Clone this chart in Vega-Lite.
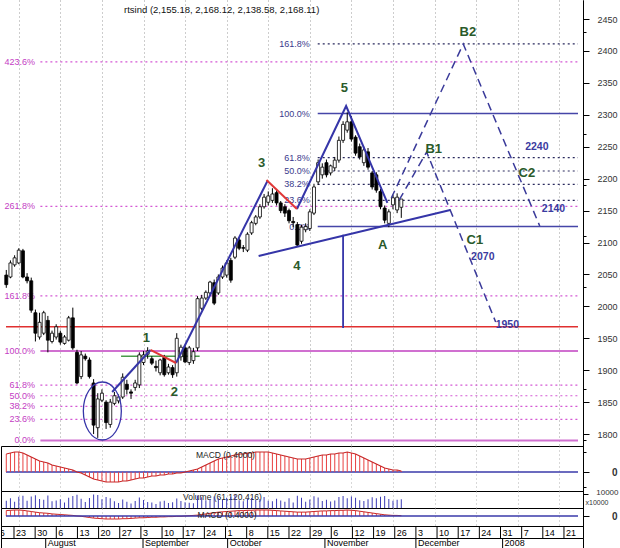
{
  "$schema": "https://vega.github.io/schema/vega-lite/v6.json",
  "padding": 0,
  "background": "white",
  "spacing": 0,
  "bounds": "flush",
  "config": {"font": "Liberation Sans", "axis": {"labelFont": "Liberation Sans"}, "text": {"font": "Liberation Sans"}},
  "resolve": {"scale": {"x": "independent", "y": "independent"}, "axis": {"x": "independent", "y": "independent"}},
  "datasets": {
    "candles": [
      {"i":2,"o":2049,"h":2057,"l":2029,"c":2034,"m":18,"v":5200},
      {"i":3,"o":2046,"h":2072,"l":2044,"c":2068,"m":19,"v":6800},
      {"i":4,"o":2065,"h":2080,"l":2062,"c":2076,"m":20,"v":4500},
      {"i":5,"o":2068,"h":2091,"l":2066,"c":2088,"m":20,"v":7900},
      {"i":6,"o":2087,"h":2090,"l":2044,"c":2046,"m":19,"v":8600},
      {"i":7,"o":2046,"h":2052,"l":2036,"c":2040,"m":17,"v":5100},
      {"i":8,"o":2040,"h":2045,"l":1990,"c":1994,"m":15,"v":8200},
      {"i":9,"o":1990,"h":1995,"l":1945,"c":1958,"m":13,"v":9000},
      {"i":10,"o":1952,"h":1990,"l":1948,"c":1975,"m":11,"v":6400},
      {"i":11,"o":1958,"h":1993,"l":1955,"c":1990,"m":10,"v":5800},
      {"i":12,"o":1978,"h":1985,"l":1928,"c":1947,"m":9,"v":8800},
      {"i":13,"o":1945,"h":1962,"l":1942,"c":1958,"m":7,"v":4700},
      {"i":14,"o":1952,"h":1972,"l":1948,"c":1968,"m":6,"v":5300},
      {"i":15,"o":1958,"h":1962,"l":1940,"c":1944,"m":5,"v":6100},
      {"i":16,"o":1942,"h":1955,"l":1940,"c":1952,"m":4,"v":3900},
      {"i":17,"o":1947,"h":1985,"l":1945,"c":1982,"m":3,"v":7200},
      {"i":18,"o":1982,"h":1998,"l":1932,"c":1935,"m":2,"v":8400},
      {"i":19,"o":1928,"h":1932,"l":1878,"c":1880,"m":0,"v":9300},
      {"i":20,"o":1890,"h":1930,"l":1886,"c":1924,"m":-1,"v":6600},
      {"i":21,"o":1922,"h":1926,"l":1915,"c":1918,"m":-3,"v":4200},
      {"i":22,"o":1916,"h":1920,"l":1887,"c":1890,"m":-5,"v":7000},
      {"i":23,"o":1880,"h":1886,"l":1800,"c":1814,"m":-7,"v":9600},
      {"i":24,"o":1810,"h":1864,"l":1794,"c":1855,"m":-8,"v":9100},
      {"i":25,"o":1853,"h":1870,"l":1850,"c":1864,"m":-9,"v":6200},
      {"i":26,"o":1850,"h":1853,"l":1808,"c":1818,"m":-10,"v":7700},
      {"i":27,"o":1815,"h":1855,"l":1810,"c":1850,"m":-10,"v":6900},
      {"i":28,"o":1848,"h":1866,"l":1845,"c":1860,"m":-10,"v":4800},
      {"i":29,"o":1852,"h":1862,"l":1848,"c":1858,"m":-10,"v":3600},
      {"i":30,"o":1858,"h":1895,"l":1855,"c":1889,"m":-9,"v":6000},
      {"i":31,"o":1878,"h":1885,"l":1862,"c":1870,"m":-9,"v":4400},
      {"i":32,"o":1866,"h":1870,"l":1855,"c":1864,"m":-8,"v":3200},
      {"i":33,"o":1873,"h":1885,"l":1868,"c":1880,"m":-7,"v":5000},
      {"i":34,"o":1877,"h":1928,"l":1872,"c":1924,"m":-6,"v":7400},
      {"i":35,"o":1912,"h":1930,"l":1908,"c":1924,"m":-6,"v":5600},
      {"i":36,"o":1925,"h":1936,"l":1918,"c":1930,"m":-5,"v":4300},
      {"i":37,"o":1918,"h":1922,"l":1908,"c":1911,"m":-4,"v":3800},
      {"i":38,"o":1906,"h":1915,"l":1898,"c":1904,"m":-4,"v":2900},
      {"i":39,"o":1896,"h":1918,"l":1892,"c":1916,"m":-3,"v":4600},
      {"i":40,"o":1920,"h":1924,"l":1890,"c":1893,"m":-3,"v":5200},
      {"i":41,"o":1896,"h":1910,"l":1893,"c":1905,"m":-2,"v":3500},
      {"i":42,"o":1904,"h":1908,"l":1888,"c":1893,"m":-2,"v":4000},
      {"i":43,"o":1896,"h":1958,"l":1890,"c":1950,"m":-1,"v":6700},
      {"i":44,"o":1921,"h":1940,"l":1915,"c":1936,"m":-1,"v":4900},
      {"i":45,"o":1935,"h":1940,"l":1911,"c":1913,"m":0,"v":4100},
      {"i":46,"o":1912,"h":1938,"l":1908,"c":1935,"m":1,"v":3700},
      {"i":47,"o":1915,"h":1935,"l":1910,"c":1929,"m":2,"v":3300},
      {"i":48,"o":1935,"h":2016,"l":1930,"c":2012,"m":3,"v":8900},
      {"i":49,"o":1997,"h":2018,"l":1994,"c":2013,"m":5,"v":7600},
      {"i":50,"o":2013,"h":2025,"l":2010,"c":2022,"m":7,"v":5500},
      {"i":51,"o":2021,"h":2040,"l":2018,"c":2038,"m":9,"v":6300},
      {"i":52,"o":2037,"h":2042,"l":2002,"c":2005,"m":11,"v":8100},
      {"i":53,"o":2021,"h":2050,"l":2018,"c":2046,"m":13,"v":6800},
      {"i":54,"o":2046,"h":2064,"l":2043,"c":2060,"m":14,"v":5900},
      {"i":55,"o":2049,"h":2072,"l":2045,"c":2068,"m":15,"v":7300},
      {"i":56,"o":2072,"h":2076,"l":2037,"c":2041,"m":16,"v":8000},
      {"i":57,"o":2077,"h":2110,"l":2074,"c":2107,"m":17,"v":9200},
      {"i":58,"o":2104,"h":2108,"l":2088,"c":2091,"m":18,"v":5400},
      {"i":59,"o":2092,"h":2096,"l":2085,"c":2091,"m":18,"v":4700},
      {"i":60,"o":2088,"h":2116,"l":2085,"c":2113,"m":19,"v":6500},
      {"i":61,"o":2115,"h":2134,"l":2112,"c":2131,"m":19,"v":7100},
      {"i":62,"o":2130,"h":2143,"l":2127,"c":2140,"m":20,"v":5700},
      {"i":63,"o":2140,"h":2160,"l":2137,"c":2156,"m":20,"v":6400},
      {"i":64,"o":2156,"h":2176,"l":2153,"c":2171,"m":20,"v":7800},
      {"i":65,"o":2163,"h":2180,"l":2158,"c":2173,"m":20,"v":5100},
      {"i":66,"o":2166,"h":2185,"l":2162,"c":2176,"m":19,"v":4800},
      {"i":67,"o":2178,"h":2182,"l":2158,"c":2162,"m":18,"v":6600},
      {"i":68,"o":2162,"h":2165,"l":2146,"c":2150,"m":17,"v":5300},
      {"i":69,"o":2156,"h":2160,"l":2140,"c":2146,"m":16,"v":4500},
      {"i":70,"o":2150,"h":2153,"l":2130,"c":2134,"m":15,"v":6900},
      {"i":71,"o":2133,"h":2140,"l":2124,"c":2131,"m":14,"v":3900},
      {"i":72,"o":2128,"h":2132,"l":2093,"c":2096,"m":13,"v":8700},
      {"i":73,"o":2102,"h":2128,"l":2098,"c":2124,"m":13,"v":7200},
      {"i":74,"o":2120,"h":2130,"l":2116,"c":2125,"m":13,"v":4400},
      {"i":75,"o":2122,"h":2152,"l":2118,"c":2148,"m":14,"v":6000},
      {"i":76,"o":2146,"h":2192,"l":2143,"c":2187,"m":15,"v":8300},
      {"i":77,"o":2195,"h":2230,"l":2190,"c":2225,"m":16,"v":7500},
      {"i":78,"o":2206,"h":2224,"l":2200,"c":2218,"m":17,"v":5000},
      {"i":79,"o":2225,"h":2230,"l":2202,"c":2206,"m":17,"v":5800},
      {"i":80,"o":2209,"h":2222,"l":2205,"c":2220,"m":18,"v":4600},
      {"i":81,"o":2217,"h":2234,"l":2212,"c":2229,"m":18,"v":5300},
      {"i":82,"o":2229,"h":2266,"l":2225,"c":2260,"m":19,"v":7700},
      {"i":83,"o":2260,"h":2290,"l":2256,"c":2285,"m":19,"v":8400},
      {"i":84,"o":2276,"h":2304,"l":2272,"c":2289,"m":20,"v":6900},
      {"i":85,"o":2289,"h":2298,"l":2258,"c":2262,"m":19,"v":8100},
      {"i":86,"o":2265,"h":2268,"l":2236,"c":2240,"m":18,"v":7300},
      {"i":87,"o":2250,"h":2255,"l":2230,"c":2234,"m":16,"v":5500},
      {"i":88,"o":2225,"h":2250,"l":2220,"c":2245,"m":14,"v":4900},
      {"i":89,"o":2242,"h":2248,"l":2214,"c":2218,"m":12,"v":6200},
      {"i":90,"o":2209,"h":2212,"l":2183,"c":2187,"m":10,"v":7600},
      {"i":91,"o":2206,"h":2210,"l":2178,"c":2182,"m":8,"v":6800},
      {"i":92,"o":2180,"h":2184,"l":2152,"c":2156,"m":6,"v":7900},
      {"i":93,"o":2154,"h":2158,"l":2130,"c":2135,"m":4,"v":8500},
      {"i":94,"o":2130,"h":2152,"l":2124,"c":2148,"m":3,"v":6400},
      {"i":95,"o":2159,"h":2175,"l":2152,"c":2170,"m":2,"v":5200},
      {"i":96,"o":2151,"h":2177,"l":2146,"c":2171,"m":2,"v":5900},
      {"i":97,"o":2155.18,"h":2168.12,"l":2138.58,"c":2168.11,"m":1,"v":6112}
    ],
    "fibMagDot": [
      {"x1":10.2,"x2":139.5,"lx":8.9,"p":2383,"lab":"423.6%"},{"x1":10.2,"x2":139.5,"lx":8.9,"p":2156.5,"lab":"261.8%"},{"x1":10.2,"x2":139.5,"lx":8.9,"p":2016.5,"lab":"161.8%"},
      {"x1":10.2,"x2":139.5,"lx":8.9,"p":1876.5,"lab":"61.8%"},{"x1":10.2,"x2":139.5,"lx":8.9,"p":1860,"lab":"50.0%"},{"x1":10.2,"x2":139.5,"lx":8.9,"p":1843.5,"lab":"38.2%"},{"x1":10.2,"x2":139.5,"lx":8.9,"p":1823,"lab":"23.6%"}
    ],
    "fibMagSolid": [{"x1":10.2,"x2":139.5,"lx":8.9,"p":1930,"lab":"100.0%"},{"x1":10.2,"x2":139.5,"lx":8.9,"p":1790,"lab":"0.0%"}],
    "fibNavDot": [
      {"x1":76.9,"x2":139.5,"lx":75.0,"p":2411,"lab":"161.8%"},{"x1":76.9,"x2":139.5,"lx":75.0,"p":2233,"lab":"61.8%"},{"x1":76.9,"x2":139.5,"lx":75.0,"p":2212,"lab":"50.0%"},
      {"x1":76.9,"x2":139.5,"lx":75.0,"p":2191,"lab":"38.2%"},{"x1":76.9,"x2":139.5,"lx":75.0,"p":2166,"lab":"23.6%"}
    ],
    "fibNavSolid": [{"x1":76.9,"x2":139.5,"lx":75.0,"p":2302,"lab":"100.0%"},{"x1":76.9,"x2":139.5,"lx":75.0,"p":2125,"lab":"0.0%"}],
    "redLine": [{"x1":1.93,"x2":139.5,"p":1968}],
    "greenLine": [{"x1":29.6,"x2":48.5,"p":1922}],
    "vLine": [{"i":83.0,"p1":2112,"p2":1966}],
    "trendNavy": [
      {"seg":"w1","i":27.46,"p":1865.9},{"seg":"w1","i":36.68,"p":1931.7},
      {"seg":"w3","i":42.83,"p":1911.3},{"seg":"w3","i":64.81,"p":2196.3},
      {"seg":"w5","i":71.9,"p":2152.5},{"seg":"w5","i":83.73,"p":2313.8},{"seg":"w5","i":93.66,"p":2161.9},
      {"seg":"tl","i":62.69,"p":2078.9},{"seg":"tl","i":108.79,"p":2150.9}
    ],
    "trendRed": [
      {"seg":"r1","i":36.68,"p":1931.7},{"seg":"r1","i":42.83,"p":1911.3},
      {"seg":"r2","i":64.58,"p":2197.9},{"seg":"r2","i":71.9,"p":2152.5}
    ],
    "trendDash": [
      {"seg":"d1","i":94.6,"p":2169.7},{"seg":"d1","i":111.9,"p":2410.9},{"seg":"d1","i":130.3,"p":2125.8},
      {"seg":"d2","i":96.5,"p":2166.6},{"seg":"d2","i":103.1,"p":2241.7},{"seg":"d2","i":119.7,"p":1975.5}
    ],
    "ellipse": [{"i":25.1,"p":1836.1}],
    "waveLab": [
      {"i":35.7,"p":1950.4,"t":"1"},{"i":42.4,"p":1865.9,"t":"2"},{"i":63.4,"p":2224.5,"t":"3"},
      {"i":71.9,"p":2063.2,"t":"4"},{"i":83.3,"p":2341.9,"t":"5"},{"i":92.5,"p":2096.1,"t":"A"},
      {"i":104.8,"p":2246.4,"t":"B1"},{"i":113.0,"p":2429.6,"t":"B2"},{"i":114.7,"p":2103.9,"t":"C1"},
      {"i":127.2,"p":2208.8,"t":"C2"}
    ],
    "navNum": [
      {"i":129.6,"p":2249.6,"t":"2240"},{"i":133.6,"p":2152.5,"t":"2140"},
      {"i":116.6,"p":2077.3,"t":"2070"},{"i":122.5,"p":1970.8,"t":"1950"}
    ],
    "titleLab": [{"i":53.8,"p":2464,"t":"rtsind (2,155.18, 2,168.12, 2,138.58, 2,168.11)"}],
    "zero": [{"x1":1.93,"x2":139.5,"z":0}],
    "macdLab": [{"i":47.6,"m":17,"t":"MACD (0.4000)"}],
    "volLab": [{"i":44.5,"v":7750,"t":"Volume (61,120,416)"}],
    "macd2Lab": [{"i":48,"m":3.3,"t":"MACD (0.4000)"}],
    "weeks": [
      {"i":0,"d":"16"},
      {"i":5,"d":"23"},{"i":10,"d":"30"},{"i":15,"d":"6"},{"i":20,"d":"13"},{"i":25,"d":"20"},{"i":30,"d":"27"},
      {"i":35,"d":"3"},{"i":40,"d":"10"},{"i":45,"d":"17"},{"i":50,"d":"24"},{"i":55,"d":"1"},{"i":60,"d":"8"},
      {"i":65,"d":"15"},{"i":70,"d":"22"},{"i":75,"d":"29"},{"i":80,"d":"6"},{"i":85,"d":"12"},{"i":90,"d":"19"},
      {"i":95,"d":"26"},{"i":100,"d":"3"},{"i":105,"d":"10"},{"i":110,"d":"17"},{"i":115,"d":"24"},{"i":120,"d":"31"},
      {"i":125,"d":"7"},{"i":130,"d":"14"},{"i":135,"d":"21"}
    ],
    "months": [
      {"i":12.5,"name":"August"},{"i":35.5,"name":"September"},{"i":55.5,"name":"October"},
      {"i":78.5,"name":"November"},{"i":100,"name":"December"},{"i":120.5,"name":"2008"}
    ]
  },
  "vconcat": [
    {
      "width": 582, "height": 446, "view": {"stroke": null},
      "resolve": {"axis": {"y": "independent"}},
      "layer": [
        {"data":{"name":"redLine"},"mark":{"type":"rule","color":"#e03030","strokeWidth":1.5},
         "encoding":{"x":{"field":"x1","type":"quantitative","title":null,"scale":{"domain":[1.93,139.5],"nice":false,"zero":false},
                          "axis":{"orient":"bottom","values":[5,10,15,20,25,30,35,40,45,50,55,60,65,70,75,80,85,90,95,100,105,110,115,120,125,130,135],"grid":true,"gridDash":[1,3],"gridColor":"#9a9a9a","labels":false,"ticks":false,"domain":false,"title":null,"minExtent":0,"maxExtent":0}},
                     "x2":{"field":"x2"},
                     "y":{"field":"p","type":"quantitative","title":null,"scale":{"domain":[1781.3,2479.8],"nice":false,"zero":false},
                          "axis":{"orient":"right","title":null,"grid":false,"domainColor":"#000","tickColor":"#000","tickSize":6,
                                  "values":[1800,1850,1900,1950,2000,2050,2100,2150,2200,2250,2300,2350,2400,2450],"format":"d",
                                  "labelFontSize":9,"labelColor":"#333","labelAlign":"right","labelPadding":28,"labelOverlap":false,"labelBound":false,"labelFlush":false}}}},
        {"layer": [
        {"data":{"name":"fibMagDot"},"mark":{"type":"rule","color":"#d458d4","strokeWidth":1.2,"strokeDash":[2,3]},
         "encoding":{"x":{"field":"x1","type":"quantitative","title":null},"x2":{"field":"x2"},"y":{"field":"p","type":"quantitative","title":null}}},
        {"data":{"name":"fibMagSolid"},"mark":{"type":"rule","color":"#d070d0","strokeWidth":2},
         "encoding":{"x":{"field":"x1","type":"quantitative","title":null},"x2":{"field":"x2"},"y":{"field":"p","type":"quantitative","title":null}}},
        {"data":{"name":"fibMagDot"},"mark":{"type":"text","align":"right","baseline":"middle","fontSize":9,"color":"#c43cc4"},
         "encoding":{"x":{"field":"lx","type":"quantitative","title":null},"y":{"field":"p","type":"quantitative","title":null},"text":{"field":"lab","type":"nominal"}}},
        {"data":{"name":"fibMagSolid"},"mark":{"type":"text","align":"right","baseline":"middle","fontSize":9,"color":"#c43cc4"},
         "encoding":{"x":{"field":"lx","type":"quantitative","title":null},"y":{"field":"p","type":"quantitative","title":null},"text":{"field":"lab","type":"nominal"}}},
        {"data":{"name":"fibNavDot"},"mark":{"type":"rule","color":"#2a2a5e","strokeWidth":1.2,"strokeDash":[2,3]},
         "encoding":{"x":{"field":"x1","type":"quantitative","title":null},"x2":{"field":"x2"},"y":{"field":"p","type":"quantitative","title":null}}},
        {"data":{"name":"fibNavSolid"},"mark":{"type":"rule","color":"#4646a8","strokeWidth":1.6},
         "encoding":{"x":{"field":"x1","type":"quantitative","title":null},"x2":{"field":"x2"},"y":{"field":"p","type":"quantitative","title":null}}},
        {"data":{"name":"fibNavDot"},"mark":{"type":"text","align":"right","baseline":"middle","fontSize":9,"color":"#3a3a8c"},
         "encoding":{"x":{"field":"lx","type":"quantitative","title":null},"y":{"field":"p","type":"quantitative","title":null},"text":{"field":"lab","type":"nominal"}}},
        {"data":{"name":"fibNavSolid"},"mark":{"type":"text","align":"right","baseline":"middle","fontSize":9,"color":"#3a3a8c"},
         "encoding":{"x":{"field":"lx","type":"quantitative","title":null},"y":{"field":"p","type":"quantitative","title":null},"text":{"field":"lab","type":"nominal"}}},
        {"data":{"name":"greenLine"},"mark":{"type":"rule","color":"#4a9a4a","strokeWidth":1.5},
         "encoding":{"x":{"field":"x1","type":"quantitative","title":null},"x2":{"field":"x2"},"y":{"field":"p","type":"quantitative","title":null}}},
        {"data":{"name":"vLine"},"mark":{"type":"rule","color":"#3535a8","strokeWidth":1.8},
         "encoding":{"x":{"field":"i","type":"quantitative","title":null},"y":{"field":"p1","type":"quantitative","title":null},"y2":{"field":"p2"}}},
        {"data":{"name":"candles"},"mark":{"type":"rule","color":"#000","strokeWidth":1,"clip":true},
         "encoding":{
           "x":{"field":"i","type":"quantitative","title":null,"scale":{"domain":[1.93,139.5],"nice":false,"zero":false},
                "axis":{"orient":"bottom","values":[5,10,15,20,25,30,35,40,45,50,55,60,65,70,75,80,85,90,95,100,105,110,115,120,125,130,135],"grid":true,"gridDash":[1,3],"gridColor":"#9a9a9a","labels":false,"ticks":false,"domain":false,"title":null,"minExtent":0,"maxExtent":0}},
           "y":{"field":"l","type":"quantitative","title":null,"scale":{"domain":[1781.3,2479.8],"nice":false,"zero":false},
                "axis":{"orient":"right","title":null,"grid":false,"labels":false,"domainColor":"#000","tickColor":"#000","tickSize":3,
                        "values":[1790,1800,1810,1820,1830,1840,1850,1860,1870,1880,1890,1900,1910,1920,1930,1940,1950,1960,1970,1980,1990,2000,2010,2020,2030,2040,2050,2060,2070,2080,2090,2100,2110,2120,2130,2140,2150,2160,2170,2180,2190,2200,2210,2220,2230,2240,2250,2260,2270,2280,2290,2300,2310,2320,2330,2340,2350,2360,2370,2380,2390,2400,2410,2420,2430,2440,2450,2460,2470]}},
           "y2":{"field":"h"}}},
        {"data":{"name":"candles"},"mark":{"type":"bar","size":3,"stroke":"#000","strokeWidth":0.8,"clip":true},
         "encoding":{"x":{"field":"i","type":"quantitative","title":null},"y":{"field":"o","type":"quantitative","title":null},"y2":{"field":"c"},
                     "fill":{"condition":{"test":"datum.c >= datum.o","value":"#ffffff"},"value":"#000000"}}},
        {"data":{"name":"trendNavy"},"mark":{"type":"line","color":"#3535a8","strokeWidth":2},
         "encoding":{"x":{"field":"i","type":"quantitative","title":null},"y":{"field":"p","type":"quantitative","title":null},"detail":{"field":"seg","type":"nominal"}}},
        {"data":{"name":"trendRed"},"mark":{"type":"line","color":"#e03838","strokeWidth":2},
         "encoding":{"x":{"field":"i","type":"quantitative","title":null},"y":{"field":"p","type":"quantitative","title":null},"detail":{"field":"seg","type":"nominal"}}},
        {"data":{"name":"trendDash"},"mark":{"type":"line","color":"#3a3a9a","strokeWidth":1.5,"strokeDash":[8,5]},
         "encoding":{"x":{"field":"i","type":"quantitative","title":null},"y":{"field":"p","type":"quantitative","title":null},"detail":{"field":"seg","type":"nominal"}}},
        {"data":{"name":"ellipse"},"mark":{"type":"point","filled":false,"stroke":"#3535a8","strokeWidth":1.3,"size":3364,"opacity":1,
           "shape":"M -0.655 0 A 0.655 1 0 1 0 0.655 0 A 0.655 1 0 1 0 -0.655 0 Z"},
         "encoding":{"x":{"field":"i","type":"quantitative","title":null},"y":{"field":"p","type":"quantitative","title":null}}},
        {"data":{"name":"waveLab"},"mark":{"type":"text","align":"center","baseline":"middle","fontSize":13,"fontWeight":"bold","color":"#2a5a2a"},
         "encoding":{"x":{"field":"i","type":"quantitative","title":null},"y":{"field":"p","type":"quantitative","title":null},"text":{"field":"t","type":"nominal"}}},
        {"data":{"name":"navNum"},"mark":{"type":"text","align":"center","baseline":"middle","fontSize":10.5,"fontWeight":"bold","color":"#3b3ba0"},
         "encoding":{"x":{"field":"i","type":"quantitative","title":null},"y":{"field":"p","type":"quantitative","title":null},"text":{"field":"t","type":"nominal"}}},
        {"data":{"name":"titleLab"},"mark":{"type":"text","align":"center","baseline":"middle","fontSize":9.5,"color":"#111"},
         "encoding":{"x":{"field":"i","type":"quantitative","title":null},"y":{"field":"p","type":"quantitative","title":null},"text":{"field":"t","type":"nominal"}}}
        ]}
      ]
    },
    {
      "width": 582, "height": 45, "view": {"stroke": "#000", "strokeWidth": 1},
      "resolve": {"axis": {"y": "independent"}},
      "layer": [
        {"data":{"name":"zero"},"mark":{"type":"rule","color":"#3a3aaa","strokeWidth":1.5},
         "encoding":{"x":{"field":"x1","type":"quantitative","title":null,"scale":{"domain":[1.93,139.5],"nice":false,"zero":false},
                          "axis":{"orient":"bottom","values":[5,10,15,20,25,30,35,40,45,50,55,60,65,70,75,80,85,90,95,100,105,110,115,120,125,130,135],"grid":true,"gridDash":[1,3],"gridColor":"#b0b0b0","labels":false,"ticks":false,"domain":false,"title":null,"minExtent":0,"maxExtent":0}},
                     "x2":{"field":"x2"},
                     "y":{"field":"z","type":"quantitative","title":null,"scale":{"domain":[-19,26],"nice":false,"zero":true},
                          "axis":{"orient":"right","title":null,"grid":false,"domainColor":"#000","tickColor":"#000","values":[0],"tickSize":6,"format":"d",
                                  "labelFontSize":10,"labelFontWeight":"bold","labelColor":"#333","labelAlign":"right","labelPadding":28,"labelOverlap":false,"labelBound":false,"labelFlush":false}}}},
        {"layer": [
        {"data":{"name":"candles"},"mark":{"type":"bar","size":1,"color":"#e84040"},
         "encoding":{
           "x":{"field":"i","type":"quantitative","title":null,"scale":{"domain":[1.93,139.5],"nice":false,"zero":false},
                "axis":{"orient":"bottom","values":[5,10,15,20,25,30,35,40,45,50,55,60,65,70,75,80,85,90,95,100,105,110,115,120,125,130,135],"grid":true,"gridDash":[1,3],"gridColor":"#b0b0b0","labels":false,"ticks":false,"domain":false,"title":null,"minExtent":0,"maxExtent":0}},
           "y":{"field":"m","type":"quantitative","title":null,"scale":{"domain":[-19,26],"nice":false,"zero":true},
                "axis":{"orient":"right","title":null,"grid":false,"labels":false,"domainColor":"#000","tickColor":"#000","tickSize":3,"values":[-15,-10,-5,5,10,15,20]}}}},
        {"data":{"name":"candles"},"mark":{"type":"line","color":"#c82828","strokeWidth":1.2},
         "encoding":{"x":{"field":"i","type":"quantitative","title":null},"y":{"field":"m","type":"quantitative","title":null}}},
        {"data":{"name":"macdLab"},"mark":{"type":"text","align":"left","baseline":"middle","fontSize":8.5,"color":"#222"},
         "encoding":{"x":{"field":"i","type":"quantitative","title":null},"y":{"field":"m","type":"quantitative","title":null},"text":{"field":"t","type":"nominal"}}}
        ]}
      ]
    },
    {
      "width": 582, "height": 17, "view": {"stroke": "#000", "strokeWidth": 1},
      "resolve": {"axis": {"y": "independent"}},
      "layer": [
        {"data":{"name":"volLab"},"mark":{"type":"text","align":"left","baseline":"middle","fontSize":8.5,"color":"#222"},
         "encoding":{"x":{"field":"i","type":"quantitative","title":null,"scale":{"domain":[1.93,139.5],"nice":false,"zero":false},
                          "axis":{"orient":"bottom","values":[5,10,15,20,25,30,35,40,45,50,55,60,65,70,75,80,85,90,95,100,105,110,115,120,125,130,135],"grid":true,"gridDash":[1,3],"gridColor":"#b0b0b0","labels":false,"ticks":false,"domain":false,"title":null,"minExtent":0,"maxExtent":0}},
                     "y":{"field":"v","type":"quantitative","title":null,"scale":{"domain":[0,12000],"nice":false,"zero":true},
                          "axis":{"orient":"right","title":null,"grid":false,"domain":false,"ticks":false,"values":[3800],"labelExpr":"'x10000'",
                                  "labelFontSize":7,"labelColor":"#333","labelAlign":"left","labelPadding":2,"labelOverlap":false,"labelBound":false,"labelFlush":false}},
                     "text":{"field":"t","type":"nominal"}}},
        {"data":{"name":"candles"},"mark":{"type":"bar","size":1,"color":"#3b3bb5"},
         "encoding":{
           "x":{"field":"i","type":"quantitative","title":null},
           "y":{"field":"v","type":"quantitative","title":null,"scale":{"domain":[0,12000],"nice":false,"zero":true},
                "axis":{"orient":"right","title":null,"grid":false,"domainColor":"#000","tickColor":"#000","values":[10000],"tickSize":5,"format":"d",
                        "labelFontSize":8,"labelColor":"#333","labelAlign":"right","labelPadding":30,"labelOverlap":false,"labelBound":false,"labelFlush":false,"labelOffset":-1}}}}
      ]
    },
    {
      "width": 582, "height": 18, "view": {"stroke": "#000", "strokeWidth": 1},
      "layer": [
        {"data":{"name":"candles"},"mark":{"type":"bar","size":1,"color":"#e84040"},
         "encoding":{
           "x":{"field":"i","type":"quantitative","title":null,"scale":{"domain":[1.93,139.5],"nice":false,"zero":false},
                "axis":{"orient":"bottom","values":[5,10,15,20,25,30,35,40,45,50,55,60,65,70,75,80,85,90,95,100,105,110,115,120,125,130,135],"grid":true,"gridDash":[1,3],"gridColor":"#b0b0b0","labels":false,"ticks":false,"domain":false,"title":null,"minExtent":0,"maxExtent":0}},
           "y":{"field":"m","type":"quantitative","title":null,"scale":{"domain":[-33.3,26.7],"nice":false,"zero":true},
                "axis":{"orient":"right","title":null,"grid":false,"domainColor":"#000","tickColor":"#000","values":[0],"tickSize":6,"format":"d",
                        "labelFontSize":10,"labelFontWeight":"bold","labelColor":"#333","labelAlign":"right","labelPadding":28,"labelOverlap":false,"labelBound":false,"labelFlush":false}}}},
        {"data":{"name":"candles"},"mark":{"type":"line","color":"#c82828","strokeWidth":1},
         "encoding":{"x":{"field":"i","type":"quantitative","title":null},"y":{"field":"m","type":"quantitative","title":null}}},
        {"data":{"name":"zero"},"mark":{"type":"rule","color":"#3a3aaa","strokeWidth":1.5},
         "encoding":{"x":{"field":"x1","type":"quantitative","title":null},"x2":{"field":"x2"},"y":{"field":"z","type":"quantitative","title":null}}},
        {"data":{"name":"macd2Lab"},"mark":{"type":"text","align":"left","baseline":"middle","fontSize":8.5,"color":"#222"},
         "encoding":{"x":{"field":"i","type":"quantitative","title":null},"y":{"field":"m","type":"quantitative","title":null},"text":{"field":"t","type":"nominal"}}}
      ]
    },
    {
      "width": 582, "height": 12, "view": {"stroke": "#000", "strokeWidth": 1},
      "data": {"name": "weeks"},
      "layer": [
        {"mark":{"type":"rule","color":"#000","strokeWidth":1,"clip":true},
         "encoding":{"x":{"field":"i","type":"quantitative","title":null,"scale":{"domain":[1.93,139.5],"nice":false,"zero":false},"axis":null}}},
        {"mark":{"type":"text","align":"left","baseline":"middle","dx":2,"dy":1,"fontSize":9,"color":"#000","clip":true},
         "encoding":{"x":{"field":"i","type":"quantitative","title":null},"text":{"field":"d","type":"nominal"}}}
      ]
    },
    {
      "width": 582, "height": 10, "view": {"stroke": "#000", "strokeWidth": 1},
      "data": {"name": "months"},
      "layer": [
        {"mark":{"type":"rule","color":"#000","strokeWidth":1},
         "encoding":{"x":{"field":"i","type":"quantitative","title":null,"scale":{"domain":[1.93,139.5],"nice":false,"zero":false},"axis":null}}},
        {"mark":{"type":"text","align":"left","baseline":"middle","dx":2,"fontSize":9,"color":"#000"},
         "encoding":{"x":{"field":"i","type":"quantitative","title":null},"text":{"field":"name","type":"nominal"}}}
      ]
    }
  ]
}
